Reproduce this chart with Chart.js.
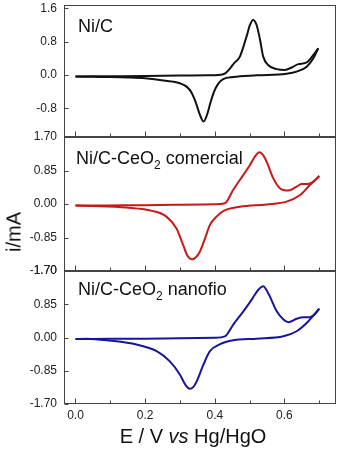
<!DOCTYPE html>
<html>
<head>
<meta charset="utf-8">
<script src="https://cdn.jsdelivr.net/npm/chart.js@4.4.1/dist/chart.umd.min.js"></script>
<style>
  body { margin: 0; background: #fff; }
  #wrap { position: relative; width: 341px; height: 455px; overflow: hidden;
          font-family: 'Liberation Sans', Arial, sans-serif; color: #111; }
  canvas { position: absolute; left: 0; }
  .lbl { position: absolute; font-size: 18px; line-height: 18px; white-space: nowrap; }
  .lbl sub { font-size: 12px; line-height: 0; vertical-align: -5px; }
  #ylab { position: absolute; left: 14px; top: 232px; font-size: 20px; white-space: nowrap;
          transform: translate(-50%, -50%) rotate(-90deg); }
  #xlab { position: absolute; left: 193px; top: 426px; font-size: 20px; line-height: 20px;
          white-space: nowrap; transform: translateX(-50%); }
</style>
</head>
<body>
<div id="wrap">
  <canvas id="c1" width="341" height="160" style="top:-10px"></canvas>
  <canvas id="c2" width="341" height="165" style="top:120px"></canvas>
  <canvas id="c3" width="341" height="175" style="top:254px"></canvas>
  <div class="lbl" style="left:78px;top:17px">Ni/C</div>
  <div class="lbl" style="left:76px;top:149px">Ni/C-CeO<sub>2</sub> comercial</div>
  <div class="lbl" style="left:78px;top:280px">Ni/C-CeO<sub>2</sub> nanofio</div>
  <div id="ylab">i/mA</div>
  <div id="xlab">E / V <i>vs</i> Hg/HgO</div>
</div>
<script>
// x axis (potential, V)
var xMajor = [0, 0.2, 0.4, 0.6];
var xMinor = [0.1, 0.3, 0.5, 0.7];

// y ticks per panel (mA)
var yTicksNiC = [-0.8, 0, 0.8, 1.6];
var yTicksCeO2 = [-1.70, -0.85, 0, 0.85, 1.70];

// Ni/C
var niCFwdE = [0, 0.1, 0.2, 0.3, 0.38, 0.41, 0.43, 0.445, 0.455, 0.472, 0.491, 0.501, 0.510, 0.520, 0.530, 0.539, 0.553, 0.578, 0.601, 0.621, 0.640, 0.664, 0.683, 0.697];
var niCFwdI = [-0.035, -0.03, -0.025, -0.015, -0.005, 0.0, 0.04, 0.17, 0.28, 0.44, 0.92, 1.2, 1.32, 1.2, 0.84, 0.44, 0.24, 0.14, 0.12, 0.18, 0.26, 0.30, 0.48, 0.64];
var niCRevE = [0.697, 0.683, 0.664, 0.635, 0.606, 0.52, 0.453, 0.424, 0.41, 0.398, 0.388, 0.378, 0.368, 0.357, 0.345, 0.333, 0.319, 0.30, 0.28, 0.242, 0.2, 0.15, 0.1, 0.05, 0];
var niCRevI = [0.64, 0.40, 0.20, 0.08, 0.03, -0.01, -0.05, -0.1, -0.21, -0.4, -0.65, -0.95, -1.12, -0.95, -0.65, -0.42, -0.28, -0.2, -0.16, -0.12, -0.08, -0.06, -0.05, -0.045, -0.04];

// Ni/C-CeO2 comercial
var comFwdE = [0, 0.1, 0.2, 0.3, 0.4, 0.429, 0.453, 0.482, 0.501, 0.515, 0.528, 0.54, 0.549, 0.568, 0.587, 0.611, 0.635, 0.649, 0.668, 0.685, 0.70];
var comFwdI = [-0.04, -0.035, -0.03, -0.02, -0.005, 0.02, 0.36, 0.74, 0.99, 1.2, 1.31, 1.22, 1.07, 0.65, 0.40, 0.34, 0.44, 0.51, 0.51, 0.58, 0.71];
var comRevE = [0.70, 0.673, 0.645, 0.606, 0.549, 0.472, 0.424, 0.405, 0.386, 0.372, 0.357, 0.345, 0.335, 0.322, 0.309, 0.29, 0.261, 0.223, 0.146, 0.05, 0];
var comRevI = [0.71, 0.48, 0.23, 0.06, -0.01, -0.07, -0.18, -0.32, -0.53, -0.87, -1.21, -1.36, -1.40, -1.32, -1.04, -0.62, -0.32, -0.18, -0.09, -0.05, -0.04];

// Ni/C-CeO2 nanofio
var nanoFwdE = [0, 0.1, 0.2, 0.3, 0.4, 0.429, 0.453, 0.482, 0.506, 0.525, 0.539, 0.548, 0.558, 0.578, 0.597, 0.611, 0.635, 0.654, 0.673, 0.688, 0.70];
var nanoFwdI = [-0.04, -0.035, -0.03, -0.02, -0.005, 0.03, 0.33, 0.67, 0.97, 1.22, 1.31, 1.22, 1.05, 0.67, 0.46, 0.39, 0.48, 0.52, 0.52, 0.6, 0.74];
var nanoRevE = [0.70, 0.668, 0.635, 0.597, 0.52, 0.453, 0.415, 0.386, 0.367, 0.348, 0.338, 0.328, 0.315, 0.30, 0.271, 0.233, 0.175, 0.099, 0.032, 0];
var nanoRevI = [0.74, 0.41, 0.16, 0.03, -0.03, -0.07, -0.17, -0.35, -0.70, -1.12, -1.27, -1.31, -1.2, -0.95, -0.61, -0.35, -0.18, -0.08, -0.03, -0.04];

Chart.defaults.font.family = "'Liberation Sans', Arial, sans-serif";
Chart.defaults.font.size = 12;
Chart.defaults.color = '#222';

function toPoints(es, is) {
    var pts = [];
    for (var i = 0; i < es.length; i++) {
        pts.push({ x: es[i], y: is[i] });
    }
    return pts;
}

function branch(es, is, color) {
    return {
        data: toPoints(es, is),
        showLine: true,
        borderColor: color,
        borderWidth: 2,
        pointRadius: 0,
        cubicInterpolationMode: 'monotone'
    };
}

// frame plus inward tick marks, like the origin plot
var framePlugin = {
    id: 'frame',
    afterDatasetsDraw: function(chart) {
        var ctx = chart.ctx;
        var a = chart.chartArea;
        var xs = chart.scales.x, ys = chart.scales.y;
        ctx.save();
        ctx.strokeStyle = '#444';
        ctx.lineWidth = 1;
        ctx.strokeRect(Math.round(a.left) + 0.5, Math.round(a.top) + 0.5,
                       Math.round(a.right - a.left) - 1, Math.round(a.bottom - a.top) - 1);
        ctx.beginPath();
        var b = Math.round(a.bottom) - 0.5;
        xMajor.forEach(function(v) {
            var px = Math.round(xs.getPixelForValue(v)) + 0.5;
            ctx.moveTo(px, b); ctx.lineTo(px, b - 5);
        });
        xMinor.forEach(function(v) {
            var px = Math.round(xs.getPixelForValue(v)) + 0.5;
            ctx.moveTo(px, b); ctx.lineTo(px, b - 3);
        });
        var l = Math.round(a.left) + 0.5;
        ys.ticks.forEach(function(t) {
            var py = Math.round(ys.getPixelForValue(t.value)) + 0.5;
            ctx.moveTo(l, py); ctx.lineTo(l + 4, py);
        });
        ctx.stroke();
        ctx.restore();
    }
};

function makeChart(id, datasets, yMin, yMax, yTicks, decimals, showX, pad) {
    return new Chart(document.getElementById(id), {
        type: 'scatter',
        data: { datasets: datasets },
        options: {
            responsive: false,
            animation: false,
            layout: { padding: pad },
            plugins: { legend: { display: false }, tooltip: { enabled: false } },
            scales: {
                x: {
                    type: 'linear',
                    min: -0.033,
                    max: 0.748,
                    display: showX,
                    grid: { display: false, drawTicks: false },
                    border: { display: false },
                    afterBuildTicks: function(scale) {
                        scale.ticks = xMajor.map(function(v) { return { value: v }; });
                    },
                    afterFit: function(scale) {
                        scale.height = showX ? 25 : 0;
                        scale.paddingLeft = 0;
                        scale.paddingRight = 0;
                    },
                    ticks: {
                        padding: 4,
                        maxRotation: 0,
                        callback: function(v) { return Number(v).toFixed(1); }
                    }
                },
                y: {
                    type: 'linear',
                    min: yMin,
                    max: yMax,
                    grid: { display: false, drawTicks: false },
                    border: { display: false },
                    afterBuildTicks: function(scale) {
                        scale.ticks = yTicks.map(function(v) { return { value: v }; });
                    },
                    afterFit: function(scale) {
                        scale.width = 64;
                        scale.paddingTop = 0;
                        scale.paddingBottom = 0;
                    },
                    ticks: {
                        padding: 7,
                        callback: function(v) { return Number(v).toFixed(decimals); }
                    }
                }
            }
        },
        plugins: [framePlugin]
    });
}

makeChart('c1', [
    branch(niCFwdE, niCFwdI, '#111'),
    branch(niCRevE, niCRevI, '#111')
], -1.49, 1.68, yTicksNiC, 1, false, { left: 0, right: 5, top: 15, bottom: 13 });

makeChart('c2', [
    branch(comFwdE, comFwdI, '#c81818'),
    branch(comRevE, comRevI, '#c81818')
], -1.70, 1.70, yTicksCeO2, 2, false, { left: 0, right: 5, top: 17, bottom: 14 });

makeChart('c3', [
    branch(nanoFwdE, nanoFwdI, '#16169a'),
    branch(nanoRevE, nanoRevI, '#16169a')
], -1.70, 1.70, yTicksCeO2, 2, true, { left: 0, right: 5, top: 17, bottom: 0 });
</script>
</body>
</html>
